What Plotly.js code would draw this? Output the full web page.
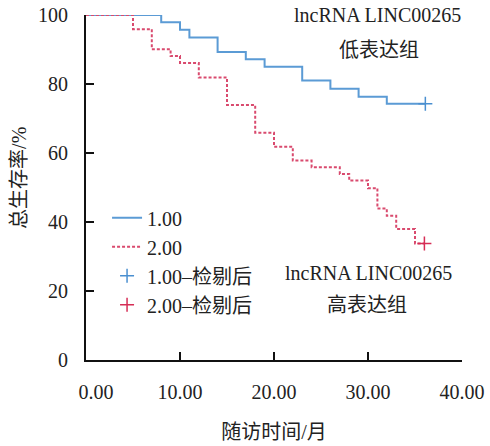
<!DOCTYPE html>
<html><head><meta charset="utf-8">
<script src="https://cdn.plot.ly/plotly-3.0.1.min.js"></script>
<style>html,body{margin:0;padding:0;background:#fff}#chart{width:490px;height:446px}</style>
</head><body><div id="chart"></div>
<script>
// Low expression group (1.00)
const lowTimes = [0, 8, 10, 11, 14, 17, 19, 23, 26, 29, 32, 36.1];
const lowSurv  = [100, 97.9, 95.7, 93.5, 89.3, 87.2, 85.0, 81.0, 78.6, 76.3, 74.3, 74.3];
const lowCensorT = [36.1];
const lowCensorS = [74.3];
// High expression group (2.00)
const highTimes = [0, 5, 7, 9, 10, 12, 15, 18, 20, 22, 24, 27, 28, 30, 31, 32, 33, 35, 36];
const highSurv  = [100, 95.9, 90.1, 88.1, 86.1, 81.9, 73.9, 65.9, 61.8, 57.8, 55.9, 53.9, 52.0, 49.8, 43.9, 41.8, 38.0, 33.8, 33.8];
const highCensorT = [36];
const highCensorS = [33.8];
const seriesNames = ['1.00', '2.00', '1.00–检剔后', '2.00–检剔后'];
const xTicks = [0, 10, 20, 30, 40];
const xTickText = ['\u00a0\u00a0\u00a0\u00a00.00', '10.00', '20.00', '30.00', '40.00'];
const yTicks = [0, 20, 40, 60, 80, 100];

const FONT = 'Liberation Serif, Times New Roman, Noto Sans CJK SC, serif';
const BLUE = '#5b9bd5', RED = '#d94a6e';
const TXT = {family: FONT, size: 20, color: '#222'};

const traces = [
  {x: lowTimes, y: lowSurv, name: seriesNames[0], mode: 'lines', line: {shape: 'hv', color: BLUE, width: 2}},
  {x: highTimes, y: highSurv, name: seriesNames[1], mode: 'lines', line: {shape: 'hv', color: RED, width: 2, dash: '3px,2px'}},
  {x: lowCensorT, y: lowCensorS, name: seriesNames[2], mode: 'markers', marker: {symbol: 'cross-thin', size: 10, line: {color: '#4a8fd0', width: 1.5}}},
  {x: highCensorT, y: highCensorS, name: seriesNames[3], mode: 'markers', marker: {symbol: 'cross-thin', size: 10, line: {color: '#d62d55', width: 1.5}}}
];

const layout = {
  width: 490, height: 446,
  margin: {l: 86, r: 28, t: 15, b: 86},
  paper_bgcolor: '#fff', plot_bgcolor: '#fff',
  font: TXT,
  showlegend: true,
  legend: {x: 0.056, y: 0.469, xanchor: 'left', yanchor: 'top', bgcolor: 'rgba(0,0,0,0)', font: TXT},
  xaxis: {
    range: [0, 40], tickvals: xTicks, ticktext: xTickText,
    ticks: 'inside', ticklen: 8, tickwidth: 2, tickcolor: '#111',
    showline: true, linecolor: '#111', linewidth: 2, showgrid: false, zeroline: false,
    ticklabelstandoff: 13,
    title: {text: '随访时间/月', font: TXT, standoff: 23}
  },
  yaxis: {
    range: [0, 100], tickvals: yTicks,
    ticks: 'inside', ticklen: 8, tickwidth: 2, tickcolor: '#111',
    showline: true, linecolor: '#111', linewidth: 2, showgrid: false, zeroline: false,
    ticklabelstandoff: 12
  },
  annotations: [
    {xref: 'paper', yref: 'paper', x: -0.178, y: 0.528, xanchor: 'center', yanchor: 'middle', textangle: -90, text: '总生存率/%', showarrow: false, font: TXT},
    {xref: 'paper', yref: 'paper', x: 0.775, y: 1.0, xanchor: 'center', yanchor: 'middle', text: 'lncRNA LINC00265', showarrow: false, font: TXT},
    {xref: 'paper', yref: 'paper', x: 0.778, y: 0.899, xanchor: 'center', yanchor: 'middle', text: '低表达组', showarrow: false, font: TXT},
    {xref: 'paper', yref: 'paper', x: 0.752, y: 0.252, xanchor: 'center', yanchor: 'middle', text: 'lncRNA LINC00265', showarrow: false, font: TXT},
    {xref: 'paper', yref: 'paper', x: 0.747, y: 0.16, xanchor: 'center', yanchor: 'middle', text: '高表达组', showarrow: false, font: TXT}
  ]
};
Plotly.newPlot('chart', traces, layout, {displayModeBar: false, staticPlot: true});
</script></body></html>
